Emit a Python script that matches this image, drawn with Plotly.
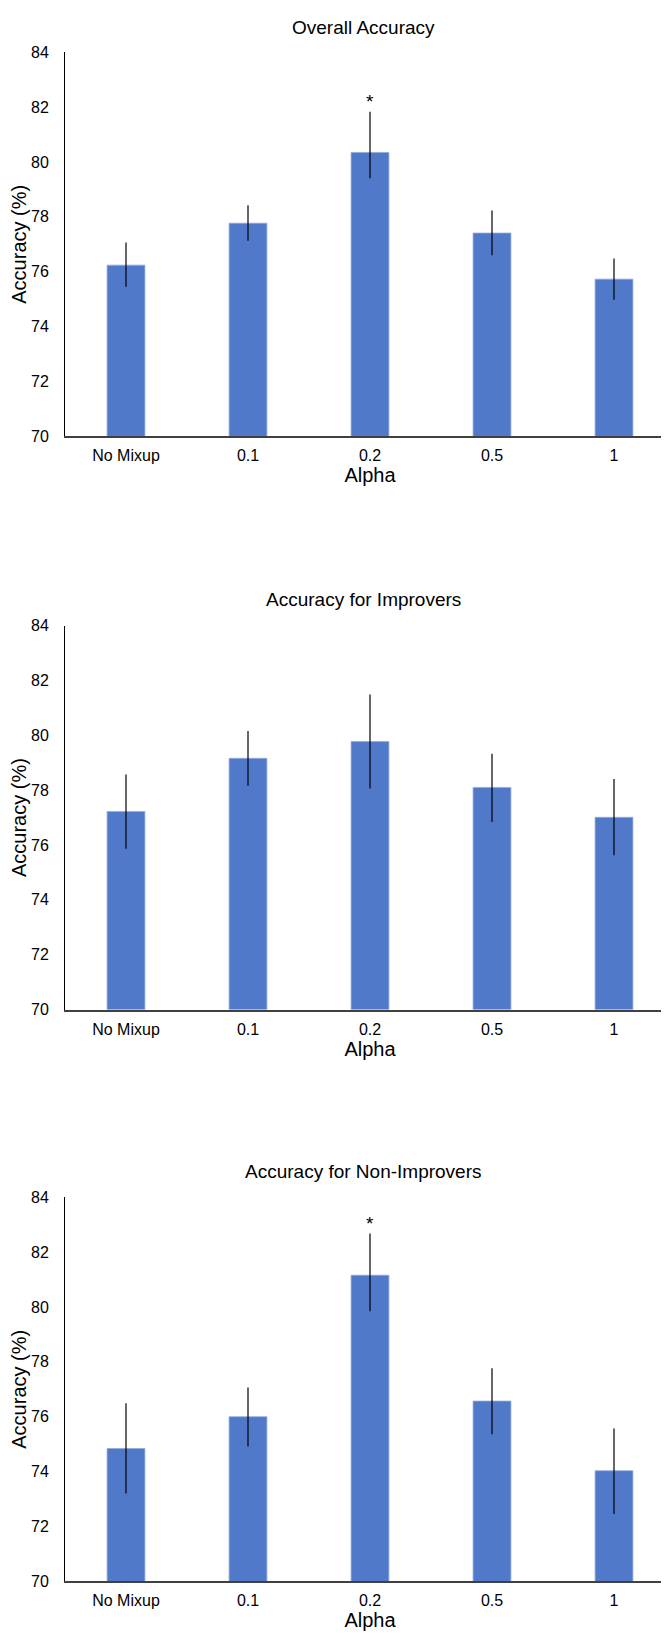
import plotly.graph_objects as go

categories = ["No Mixup", "0.1", "0.2", "0.5", "1"]

overall = [76.24, 77.77, 80.35, 77.41, 75.73]
overall_err_plus = [0.83, 0.65, 1.48, 0.82, 0.75]
overall_err_minus = [0.79, 0.64, 0.94, 0.81, 0.75]
overall_sig = ["", "", "*", "", ""]

improvers = [77.22, 79.16, 79.77, 78.10, 77.01]
improvers_err_plus = [1.35, 1.00, 1.72, 1.23, 1.40]
improvers_err_minus = [1.36, 1.00, 1.71, 1.26, 1.38]
improvers_sig = ["", "", "", "", ""]

nonimp = [74.84, 76.00, 81.16, 76.57, 74.03]
nonimp_err_plus = [1.65, 1.07, 1.52, 1.20, 1.54]
nonimp_err_minus = [1.64, 1.09, 1.31, 1.21, 1.58]
nonimp_sig = ["", "", "*", "", ""]

titles = ["Overall Accuracy", "Accuracy for Improvers", "Accuracy for Non-Improvers"]
y_ticks = [70, 72, 74, 76, 78, 80, 82, 84]

W, H = 669, 1638
FONT = "Liberation Sans, Arial, sans-serif"
BAR = "#5079C9"

panels = [
    (overall, overall_err_plus, overall_err_minus, overall_sig),
    (improvers, improvers_err_plus, improvers_err_minus, improvers_sig),
    (nonimp, nonimp_err_plus, nonimp_err_minus, nonimp_sig),
]
# pixel layout of each plot area (top, bottom) and title centre
tops = [36.7, 616.0, 1193.7]
bottoms = [424.7, 1004.0, 1581.7]
title_y = [12, 590, 1168]

fig = go.Figure()
annotations = []
for i, (vals, ep, em, sig) in enumerate(panels):
    n = "" if i == 0 else str(i + 1)
    fig.add_trace(go.Bar(
        x=categories, y=vals,
        xaxis="x" + n, yaxis="y" + n,
        marker=dict(color=BAR, line=dict(color="#8FAADC", width=0.8)),
        error_y=dict(type="data", symmetric=False, array=ep, arrayminus=em,
                     color="black", thickness=1.2, width=0),
        showlegend=False,
    ))
    for k, (v, e, s) in enumerate(zip(vals, ep, sig)):
        if s:
            annotations.append(dict(
                x=k, y=v + e, xref="x" + n, yref="y" + n, text=s,
                showarrow=False, yanchor="middle", yshift=10,
                font=dict(family=FONT, size=19, color="black"),
            ))
    annotations.append(dict(
        x=0.49, y=1 - title_y[i] / H, xref="paper", yref="paper",
        text=titles[i], showarrow=False, xanchor="center", yanchor="middle",
        font=dict(family=FONT, size=19, color="black"),
    ))
    dom = [1 - bottoms[i] / H, 1 - tops[i] / H]
    fig.update_layout({
        "xaxis" + n: dict(
            domain=[0, 1], anchor="y" + n, type="category",
            showline=True, linecolor="#404040", linewidth=1.5,
            ticks="", showgrid=False, zeroline=False,
            tickfont=dict(family=FONT, size=16, color="black"),
            ticklabelstandoff=4,
            title=dict(text="Alpha", standoff=4,
                       font=dict(family=FONT, size=20, color="black")),
        ),
        "yaxis" + n: dict(
            domain=dom, anchor="x" + n, range=[70, 84],
            tickvals=y_ticks, showline=True, linecolor="black", linewidth=1,
            ticks="", showgrid=False, zeroline=False,
            tickfont=dict(family=FONT, size=16, color="black"),
            ticklabelstandoff=12,
            title=dict(text="Accuracy (%)", standoff=6,
                       font=dict(family=FONT, size=20, color="black")),
        ),
    })

fig.update_layout(
    width=W, height=H,
    margin=dict(l=57, r=2, t=0, b=0),
    paper_bgcolor="white", plot_bgcolor="white",
    bargap=0.69,
    annotations=annotations,
    font=dict(family=FONT, color="black"),
)

fig.write_html("out.html")
